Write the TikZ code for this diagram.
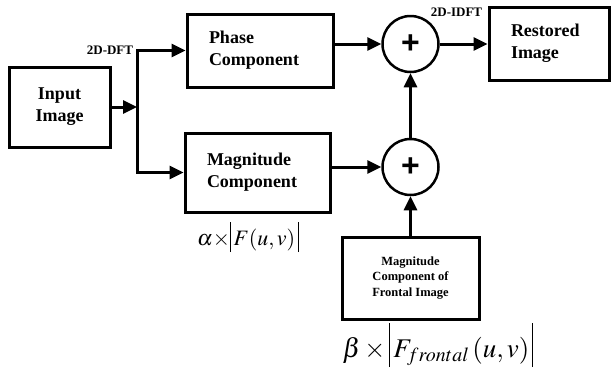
\documentclass[tikz,border=0pt]{standalone}
\usepackage{amsmath}
\usepackage{mathptmx}
\usepackage{fontspec}
\setmainfont{Liberation Serif}
\setsansfont{Liberation Sans}
\usetikzlibrary{arrows.meta}
\newcommand{\absbar}[2]{\rule[-#1]{1.1pt}{#2}}

\begin{document}
\begin{tikzpicture}[x=1pt, y=-1pt, >={Triangle[length=14pt,width=13pt]},
  blk/.style={draw, line width=3pt, inner xsep=22pt, inner ysep=0pt, font=\fontsize{18}{22}\selectfont\bfseries},
  summer/.style={draw, circle, line width=2.5pt, minimum size=56pt, inner sep=0pt, font=\fontsize{32}{32}\sffamily\bfseries},
  lbl/.style={font=\fontsize{13}{15}\selectfont\bfseries, inner sep=0pt},
  link/.style={->, line width=3pt}]
  \useasboundingbox (0,0) rectangle (611,370);
  \node[blk, minimum width=101pt, minimum height=80pt, align=center, inner xsep=0pt] (input) at (59.5,107) {Input\\Image};
  \node[blk, text width=102pt, minimum height=73pt, align=left] (phase) at (260,50.5) {Phase\\Component};
  \node[blk, text width=101pt, minimum height=79pt, align=left] (mag) at (257.5,172.5) {Magnitude\\Component};
  \node[blk, text width=76pt, minimum height=73pt, align=left] (restored) at (549,43.5) {Restored\\Image};
  \node[blk, minimum width=137pt, minimum height=82pt, align=center, inner xsep=0pt, font=\fontsize{12.5}{15.5}\selectfont\bfseries] (frontal) at (410.5,278) {Magnitude\\Component of\\Frontal Image};
  \node[summer] (sumtop) at (410.5,44) {+};
  \node[summer] (sumbot) at (410.5,167) {+};
  \coordinate (split) at (137,107);
  \draw[link] (input) -- (split);
  \draw[link] (split) |- (phase);
  \draw[link] (split) |- (mag);
  \draw[link] (phase.east |- sumtop) -- (sumtop);
  \draw[link] (mag.east |- sumbot) -- (sumbot);
  \draw[link] (sumbot) -- (sumtop);
  \draw[link] (frontal) -- (sumbot);
  \draw[link] (sumtop) -- (sumtop -| restored.west);
  \node[lbl, anchor=base] (dft) at (110,54) {2D-DFT};
  \node[lbl, anchor=base] (idft) at (456.5,16) {2D-IDFT};
  \node[inner sep=0pt, anchor=base] (alpha) at (248,245) {\fontsize{22}{24}\selectfont$\alpha{\times}\absbar{7pt}{30pt}\,F(u,v)\,\absbar{7pt}{30pt}$};
  \node[inner sep=0pt, anchor=base] (beta) at (438,357) {\fontsize{27}{30}\selectfont$\beta\times\absbar{10pt}{44pt}\,F_{frontal}\,(u,v)\,\absbar{10pt}{44pt}$};
\end{tikzpicture}
\end{document}
